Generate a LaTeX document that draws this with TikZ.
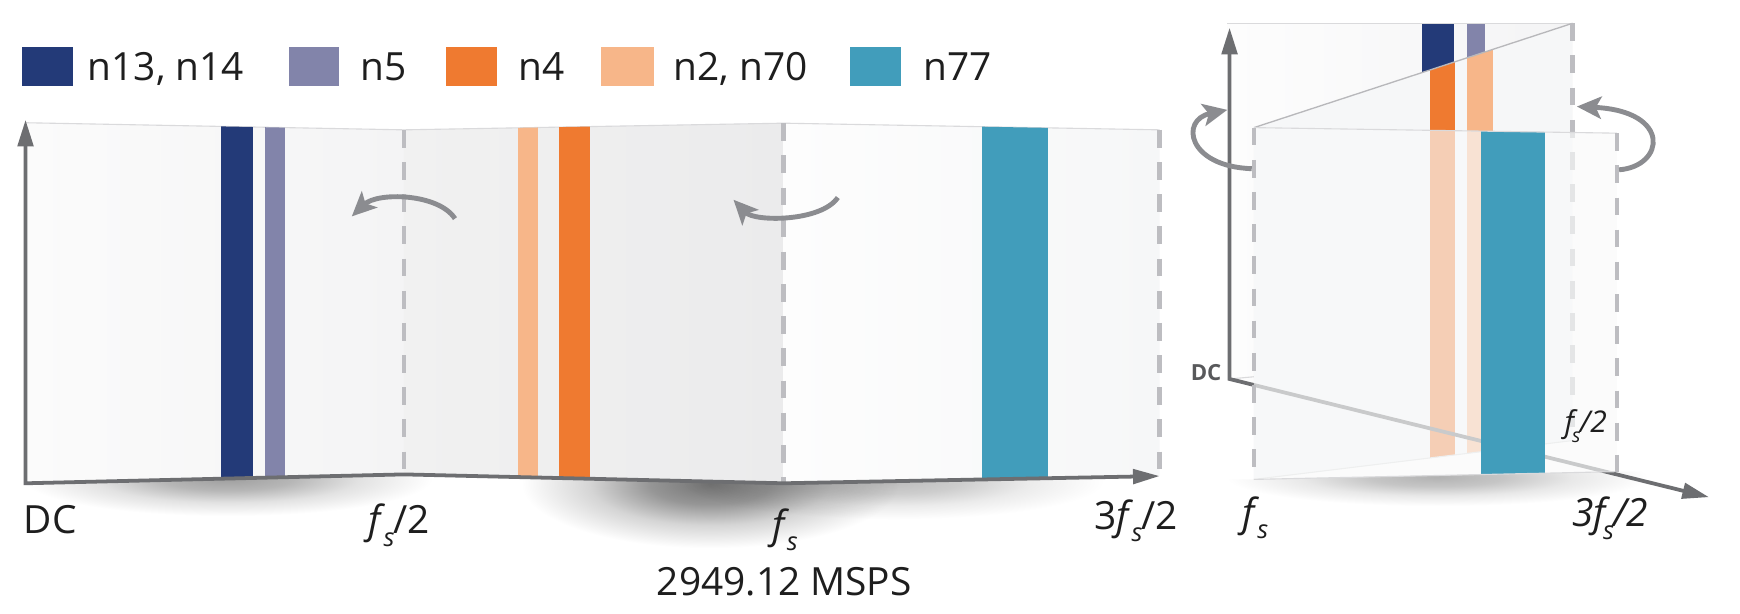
\documentclass[tikz,border=0pt]{standalone}
\usepackage{fontspec}
\setmainfont{Open Sans}
\usepackage{graphicx}
\usetikzlibrary{arrows.meta}
\definecolor{cnavy}{HTML}{233A78}
\definecolor{clav}{HTML}{8284AA}
\definecolor{corange}{HTML}{EF7A30}
\definecolor{clight}{HTML}{F7B689}
\definecolor{cteal}{HTML}{419DBB}
\definecolor{caxis}{HTML}{6D6E71}
\definecolor{cdash}{HTML}{BDBDC1}
\definecolor{carrow}{HTML}{8B8C90}
\definecolor{ctext}{HTML}{1E1E1E}
\definecolor{cdc}{HTML}{58595B}
\definecolor{cpa}{HTML}{FBFBFB}
\definecolor{cpb}{HTML}{F4F4F5}
\definecolor{cpc}{HTML}{F1F1F1}
\definecolor{cpd}{HTML}{EBEBEC}
\definecolor{cpe}{HTML}{FDFDFD}
\definecolor{cpf}{HTML}{F6F7F8}
\definecolor{cedge}{HTML}{DADADC}
\definecolor{cdiag}{HTML}{B8B8BB}
\definecolor{cfront}{HTML}{F9FAFA}
\definecolor{cmid}{HTML}{F6F7F8}
\colorlet{softin}{black!40}
\pgfdeclareradialshading[softin]{softshadow}{\pgfpoint{0bp}{0bp}}{color(0bp)=(softin); color(8bp)=(softin!75!white); color(16bp)=(softin!30!white); color(25bp)=(white); color(50bp)=(white)}
\newcommand{\fsx}{\textit{f}\kern-0.06em\raisebox{-0.32em}{\scalebox{0.65}{\textit{s}}}\kern-0.02em}
\begin{document}
\begin{tikzpicture}[x=0.5pt,y=-0.5pt,
  lbl/.style={font=\fontsize{17.5}{20}\selectfont, text=ctext, inner sep=0pt},
  leg/.style={font=\fontsize{17.5}{20}\selectfont, text=ctext, inner sep=0pt, anchor=base west},
  axis/.style={draw=caxis, line width=1.7pt, line join=miter},
  dashl/.style={draw=cdash, line width=2pt, dash pattern=on 8pt off 6.5pt},
  edge/.style={draw=cedge, line width=0.5pt},
  carr/.style={draw=carrow, line width=2.2pt, -{Stealth[length=11pt,width=10pt,inset=2.5pt]}},
  softsh/.style={shading=softshadow}]
\useasboundingbox (0,0) rectangle (1568,553);
\fill[white] (0,0) rectangle (1568,553);

% ---------- legend ----------
\fill[cnavy] (19.5,42.7) rectangle (65.5,77.5);
\node[leg] (l1) at (78.7,72.7) {n13, n14};
\fill[clav] (260,42.7) rectangle (305.7,77.5);
\node[leg] (l2) at (324.4,72.7) {n5};
\fill[corange] (402,42.7) rectangle (447.5,77.5);
\node[leg] (l3) at (467,72.7) {n4};
\fill[clight] (542,42.7) rectangle (589,77.5);
\node[leg] (l4) at (606.6,72.7) {n2, n70};
\fill[cteal] (766,42.7) rectangle (811.7,77.5);
\node[leg] (l5) at (831.5,72.7) {n77};

% ---------- left panel ----------
\coordinate (p0t) at (23,110.6);
\coordinate (p0b) at (23,435.5);
\coordinate (p1t) at (364,117);
\coordinate (p1b) at (364,427.5);
\coordinate (p2t) at (706,111);
\coordinate (p2b) at (706,435.5);
\coordinate (p3t) at (1045,117);
\coordinate (p3b) at (1045,429);

% soft shadows under the folded strip
\begin{scope}[blend mode=multiply]
\colorlet{softin}{black!38}
\shade[softsh] (205,431) ellipse [x radius=185, y radius=34];
\colorlet{softin}{black!55}
\shade[softsh] (640,436) ellipse [x radius=170, y radius=58];
\colorlet{softin}{black!26}
\shade[softsh] (805,434) ellipse [x radius=190, y radius=34];
\end{scope}

\shade[left color=cpa, right color=cpb] (p0t) -- (p1t) -- (p1b) -- (p0b) -- cycle;
\shade[left color=cpc, right color=cpd] (p1t) -- (p2t) -- (p2b) -- (p1b) -- cycle;
\shade[left color=cpe, right color=cpf] (p2t) -- (p3t) -- (p3b) -- (p2b) -- cycle;
\draw[edge] (p0t) -- (p1t) -- (p2t) -- (p3t);

\begin{scope}
\clip (p0t) -- (p1t) -- (p2t) -- (p3t) -- (p3b) -- (p2b) -- (p1b) -- (p0b) -- cycle;
\fill[cnavy] (199,100) rectangle (228,440);
\fill[clav] (239,100) rectangle (257,440);
\fill[clight] (467,100) rectangle (485,440);
\fill[corange] (503.5,100) rectangle (532,440);
\fill[cteal] (885,100) rectangle (944,440);
\end{scope}

\draw[dashl] (p1t) -- (p1b);
\draw[dashl] (p2t) -- (p2b);
\draw[dashl] (p3t) -- (p3b);

\coordinate (ytop) at (23,108);
\draw[axis, {Triangle[length=12pt,width=7pt]}-{Triangle[length=12pt,width=6.5pt]}] (ytop) -- (p0b) -- (p1b) -- (p2b) -- (p3b);

\coordinate (a1s) at (410,197);
\coordinate (a1e) at (317,195);
\draw[carr] (a1s) .. controls (395,174) and (340,173) .. (a1e);
\coordinate (a2s) at (755,178);
\coordinate (a2e) at (661,180);
\draw[carr] (a2s) .. controls (740,200) and (680,200) .. (a2e);

\node[lbl, anchor=base west] (tdc) at (21,481) {DC};
\node[lbl, anchor=base] (tfs2) at (360,481) {\fsx/2};
\node[lbl, anchor=base] (tfs) at (707,485) {\fsx};
\node[lbl, anchor=base] (tmsps) at (706.7,537) {2949.12 MSPS};
\node[lbl, anchor=base] (t3fs) at (1024,477) {3\fsx/2};

% ---------- right panel ----------
\coordinate (bTL) at (1106,21);
\coordinate (bTR) at (1417,21);
\coordinate (mBR) at (1417,397);
\coordinate (dc) at (1108,341.5);
\coordinate (fTL) at (1130,115);
\coordinate (fTR) at (1457,120);
\coordinate (fBR) at (1457,425);
\coordinate (fBL) at (1130,432);
\coordinate (vtop) at (1108,25);
\coordinate (xend) at (1540,448);

\begin{scope}
\clip (1100,432) -- (1130,432) -- (1457,425) -- (1520,425) -- (1520,500) -- (1100,500) -- cycle;
\colorlet{softin}{black!30}
\shade[softsh] (1295,430) ellipse [x radius=190, y radius=26];
\end{scope}

\shade[left color=cpe, right color=cpb] (bTL) -- (bTR) -- (mBR) -- (dc) -- cycle;
\begin{scope}
\clip (bTL) -- (bTR) -- (mBR) -- (dc) -- cycle;
\fill[cnavy] (1281,0) rectangle (1310,200);
\fill[clav] (1322,0) rectangle (1338.5,200);
\end{scope}
\draw[edge] (bTL) -- (bTR);
\fill[cmid] (bTR) -- (fTL) -- (fBL) -- (mBR) -- cycle;
\begin{scope}
\clip (bTR) -- (fTL) -- (fBL) -- (mBR) -- cycle;
\fill[corange] (1288.5,0) rectangle (1311,460);
\fill[clight] (1322,0) rectangle (1345.5,460);
\end{scope}
\draw[draw=cdiag, line width=0.6pt] (bTR) -- (fTL);
\draw[edge] (fBL) -- (mBR);
\draw[dashl] (bTR) -- (mBR);
\draw[edge] (dc) -- (1130,339.5);

\draw[axis, {Triangle[length=12pt,width=7pt]}-{Triangle[length=12pt,width=7pt]}] (vtop) -- (dc) -- (xend);

\fill[cfront, opacity=0.66] (fTL) -- (fTR) -- (fBR) -- (fBL) -- cycle;
\begin{scope}
\clip (fTL) -- (fTR) -- (fBR) -- (fBL) -- cycle;
\fill[cteal] (1335,100) rectangle (1392,440);
\end{scope}
\draw[edge] (fTL) -- (fTR);
\draw[edge] (fBL) -- (fBR);
\draw[dashl] (fTL) -- (fBL);
\draw[dashl] (fTR) -- (fBR);

\coordinate (a3s) at (1128,152);
\coordinate (a3e) at (1106,99);
\draw[carr] (a3s) .. controls (1070,150) and (1063,108) .. (a3e);
\coordinate (a4s) at (1459,153);
\coordinate (a4e) at (1421,96);
\draw[carr] (a4s) .. controls (1500,150) and (1507,100) .. (a4e);

\node[font=\bfseries\fontsize{10}{12}\selectfont, text=cdc, inner sep=0pt, anchor=base east] (rdc) at (1101,343) {DC};
\node[lbl, anchor=base] (rfs) at (1131,474) {\fsx};
\node[lbl, anchor=base] (r3fs) at (1451,474.6) {\itshape 3\fsx/2};
\node[font=\fontsize{13.5}{15}\selectfont, text=ctext, inner sep=0pt, anchor=base] (rfs2) at (1429,390) {\itshape\fsx/2};
\end{tikzpicture}
\end{document}
